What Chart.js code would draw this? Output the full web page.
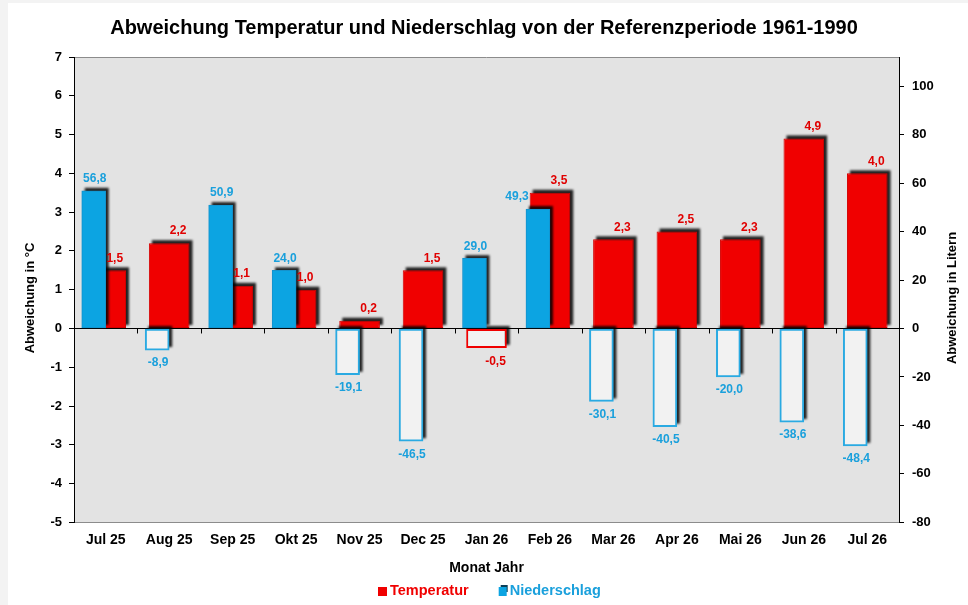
<!DOCTYPE html>
<html lang="de">
<head>
<meta charset="UTF-8">
<title>Abweichung Temperatur und Niederschlag</title>
<script src="https://cdn.jsdelivr.net/npm/chart.js@4.4.1/dist/chart.umd.min.js"></script>
<style>
  html, body { margin: 0; padding: 0; background: #fff; }
  canvas { display: block; }
</style>
</head>
<body>
<canvas id="chart" width="968" height="605"></canvas>
<script>
// Monate
const labels = ['Jul 25', 'Aug 25', 'Sep 25', 'Okt 25', 'Nov 25', 'Dec 25', 'Jan 26',
                'Feb 26', 'Mar 26', 'Apr 26', 'Mai 26', 'Jun 26', 'Jul 26'];
// Abweichung Temperatur in °C
const temperatur = [1.5, 2.2, 1.1, 1.0, 0.2, 1.5, -0.5, 3.5, 2.3, 2.5, 2.3, 4.9, 4.0];
// Abweichung Niederschlag in Litern
const niederschlag = [56.8, -8.9, 50.9, 24.0, -19.1, -46.5, 29.0, 49.3, -30.1, -40.5, -20.0, -38.6, -48.4];

const RED = '#f00000';
const BLUE = '#0ca4e2';
const LABEL_RED = '#e00000';
const LABEL_BLUE = '#1aa0dc';
const NEG_FILL = '#f2f2f2';
const FONT = 'Arial, "Liberation Sans", sans-serif';

const fmt = v => v.toFixed(1).replace('.', ',');

// Hintergrund + Rahmen
const background = {
  id: 'background',
  beforeDraw(chart) {
    const { ctx, chartArea: a, width, height } = chart;
    ctx.save();
    ctx.fillStyle = '#f3f3f3';
    ctx.fillRect(0, 0, width, height);
    ctx.fillStyle = '#fff';
    ctx.fillRect(8, 3, width - 8, height - 3);
    ctx.fillStyle = '#e3e3e3';
    ctx.fillRect(a.left, a.top, a.right - a.left, a.bottom - a.top);
    ctx.strokeStyle = '#8c8c8c';
    ctx.lineWidth = 1;
    ctx.beginPath();
    ctx.moveTo(a.left, a.top + 0.5);
    ctx.lineTo(a.right, a.top + 0.5);
    ctx.stroke();
    ctx.restore();
  }
};

// Schatten hinter den Balken (oben rechts versetzt)
const shadow = {
  id: 'shadow',
  beforeDatasetDraw(chart, args) {
    const ctx = chart.ctx;
    ctx.save();
    ctx.filter = 'blur(1.2px)';
    ctx.fillStyle = 'rgba(0,0,0,0.85)';
    args.meta.data.forEach(el => {
      const p = el.getProps(['x', 'y', 'base', 'width'], true);
      const top = Math.min(p.y, p.base);
      const bottom = Math.max(p.y, p.base);
      ctx.fillRect(p.x - p.width / 2 + 3, top - 3, p.width, bottom - top);
    });
    ctx.restore();
  }
};

// Werte an den Balken
const valueLabels = {
  id: 'valueLabels',
  afterDatasetsDraw(chart) {
    const ctx = chart.ctx;
    const tMeta = chart.getDatasetMeta(0);
    const nMeta = chart.getDatasetMeta(1);
    ctx.save();
    ctx.font = 'bold 12px ' + FONT;
    ctx.textAlign = 'center';
    ctx.textBaseline = 'middle';

    tMeta.data.forEach((el, i) => {
      const v = temperatur[i];
      ctx.fillStyle = LABEL_RED;
      ctx.fillText(fmt(v), el.x + 9, v >= 0 ? el.y - 12 : el.y + 14);
    });

    nMeta.data.forEach((el, i) => {
      const v = niederschlag[i];
      ctx.fillStyle = LABEL_BLUE;
      if (v >= 0) {
        const ly = el.y - 12;
        // Beschriftung nach links schieben, wenn der Temperaturbalken im Weg ist
        const dx = tMeta.data[i].y < ly + 6 ? -21 : 1;
        ctx.fillText(fmt(v), el.x + dx, ly);
      } else {
        ctx.fillText(fmt(v), el.x + 1, el.y + 13);
      }
    });
    ctx.restore();
  }
};

// Achsentitel, Striche an der Nulllinie, Legende
const extras = {
  id: 'extras',
  afterDraw(chart) {
    const { ctx, scales } = chart;
    const x = scales.x;
    const y0 = scales.y.getPixelForValue(0);
    ctx.save();
    ctx.strokeStyle = '#000';
    ctx.lineWidth = 1;
    ctx.beginPath();
    for (let i = 1; i < labels.length; i++) {
      const px = Math.round((x.getPixelForValue(i - 1) + x.getPixelForValue(i)) / 2) + 0.5;
      ctx.moveTo(px, y0);
      ctx.lineTo(px, y0 + 5);
    }
    ctx.stroke();

    ctx.fillStyle = '#000';
    ctx.font = 'bold 13px ' + FONT;
    ctx.textAlign = 'center';
    ctx.textBaseline = 'middle';
    const cy = 298;
    ctx.translate(30, cy);
    ctx.rotate(-Math.PI / 2);
    ctx.fillText('Abweichung in °C', 0, 0);
    ctx.setTransform(1, 0, 0, 1, 0, 0);
    ctx.translate(952, cy);
    ctx.rotate(-Math.PI / 2);
    ctx.fillText('Abweichung in Litern', 0, 0);
    ctx.setTransform(1, 0, 0, 1, 0, 0);

    // Legende
    const ly = 591;
    ctx.font = 'bold 14.5px ' + FONT;
    ctx.textAlign = 'left';
    let lx = 378;
    ctx.fillStyle = RED;
    ctx.fillRect(lx, ly - 4, 9, 9);
    ctx.fillText('Temperatur', lx + 12, ly);
    lx += 12 + ctx.measureText('Temperatur').width + 30;
    ctx.fillStyle = '#0b3f58';
    ctx.fillRect(lx + 2, ly - 6, 7, 7);
    ctx.fillStyle = BLUE;
    ctx.fillRect(lx, ly - 4, 8, 9);
    ctx.fillStyle = LABEL_BLUE;
    ctx.fillText('Niederschlag', lx + 11, ly);
    ctx.restore();
  }
};

const ctx = document.getElementById('chart').getContext('2d');
new Chart(ctx, {
  type: 'bar',
  data: {
    labels: labels,
    datasets: [
      {
        label: 'Temperatur',
        data: temperatur,
        yAxisID: 'y',
        order: 2,
        grouped: false,
        categoryPercentage: 1,
        barPercentage: 0.64,
        backgroundColor: c => c.raw < 0 ? NEG_FILL : RED,
        borderColor: c => c.raw < 0 ? RED : '#d40000',
        borderWidth: c => c.raw < 0 ? 2 : 1,
        borderSkipped: false
      },
      {
        label: 'Niederschlag',
        data: niederschlag,
        yAxisID: 'y1',
        order: 1,
        stack: 'n',
        barThickness: 24,
        backgroundColor: c => c.raw < 0 ? NEG_FILL : BLUE,
        borderColor: c => c.raw < 0 ? '#2aaae2' : '#1592cc',
        borderWidth: c => c.raw < 0 ? 2 : 1,
        borderSkipped: false
      },
      {
        // leerer Platzhalter, damit die Niederschlagsbalken links der Mitte stehen
        label: '',
        data: [],
        yAxisID: 'y',
        order: 3,
        stack: 'leer',
        barThickness: 24
      }
    ]
  },
  options: {
    responsive: false,
    animation: false,
    layout: { padding: { left: 0, right: 0, top: 0, bottom: 28 } },
    plugins: {
      title: {
        display: true,
        text: 'Abweichung Temperatur und Niederschlag von der Referenzperiode 1961-1990',
        color: '#000',
        font: { family: FONT, size: 20, weight: 'bold' },
        padding: { top: 16, bottom: 17 }
      },
      legend: { display: false },
      tooltip: { enabled: false }
    },
    scales: {
      x: {
        grid: { display: false, drawTicks: false },
        border: { display: true, color: '#8c8c8c' },
        ticks: {
          color: '#000',
          padding: 9,
          font: { family: FONT, size: 14, weight: 'bold' }
        },
        title: {
          display: true,
          text: 'Monat Jahr',
          color: '#000',
          font: { family: FONT, size: 14, weight: 'bold' },
          padding: { top: 3, bottom: 0 }
        }
      },
      y: {
        position: 'left',
        min: -5,
        max: 7,
        ticks: {
          stepSize: 1,
          color: '#000',
          padding: 7,
          font: { family: FONT, size: 13, weight: 'bold' }
        },
        grid: {
          drawOnChartArea: true,
          color: c => c.tick && c.tick.value === 0 ? '#000' : 'rgba(0,0,0,0)',
          tickColor: '#000',
          tickLength: 5
        },
        border: { color: '#000' },
        afterFit: s => { s.width = 74; }
      },
      y1: {
        position: 'right',
        min: -80,
        max: 112,
        ticks: {
          stepSize: 20,
          color: '#000',
          padding: 8,
          font: { family: FONT, size: 13, weight: 'bold' }
        },
        afterBuildTicks: s => { s.ticks = s.ticks.filter(t => t.value % 20 === 0); },
        grid: { drawOnChartArea: false, tickColor: '#000', tickLength: 5 },
        border: { color: '#000' },
        afterFit: s => { s.width = 69; }
      }
    }
  },
  plugins: [background, shadow, valueLabels, extras]
});
</script>
</body>
</html>
